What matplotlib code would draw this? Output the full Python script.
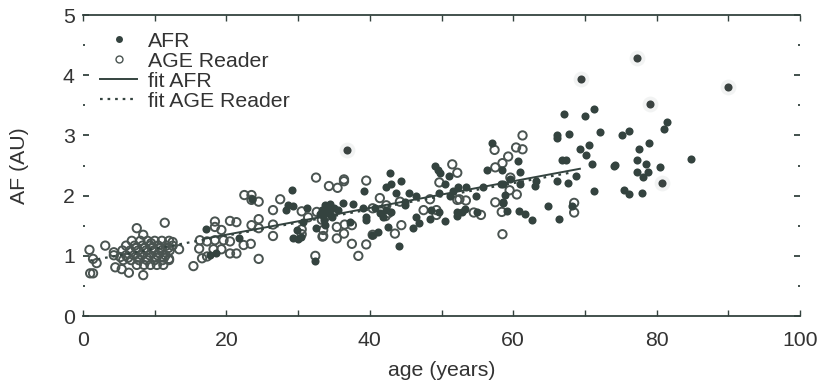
import matplotlib.pyplot as plt
from matplotlib.lines import Line2D
import numpy as np

plt.rcParams['font.family'] = ['Liberation Sans', 'DejaVu Sans']

# AFR measurements (filled dots)
afr_age = [17.2, 17.7, 18.6, 21.8, 23.5, 28.3, 28.6, 29.1, 29.3, 29.8, 29.3, 30.0,
           30.4, 30.7, 31.2, 32.4, 32.5, 33.0, 33.3, 33.5, 33.6, 33.8, 33.8, 34.0,
           34.2, 34.4, 34.5, 34.7, 35.0, 35.6, 36.2, 37.2, 37.7, 39.1, 39.2, 39.5,
           39.5, 40.3, 40.7, 41.2, 41.4, 41.9, 42.3, 42.3, 42.6, 42.8, 43.0, 43.0,
           43.7, 44.1, 44.4, 44.9, 44.9, 45.5, 46.0, 46.5, 46.5, 46.8, 48.4, 48.6,
           49.1, 49.5, 49.8, 49.6, 49.6, 50.5, 50.5, 51.0, 51.2, 51.6, 52.1, 52.2,
           52.3, 52.8, 53.3, 53.4, 54.8, 54.9, 55.8, 56.3, 57.0, 58.3, 58.5, 58.6,
           58.6, 58.6, 58.8, 59.2, 59.6, 60.7, 60.8, 60.9, 61.0, 61.6, 62.6, 63.0,
           63.2, 64.9, 66.1, 66.1, 66.1, 66.4, 66.8, 67.1, 67.4, 67.7, 67.8, 68.2,
           68.8, 69.3, 70.0, 70.1, 70.6, 71.0, 71.2, 71.3, 72.1, 74.0, 74.2, 75.2,
           75.4, 76.2, 76.2, 77.3, 77.3, 77.6, 77.9, 78.1, 78.5, 78.8, 78.9, 80.5,
           81.1, 81.5, 84.8]
afr_af = [1.45, 1.01, 1.04, 1.30, 1.95, 1.76, 1.84, 2.09, 1.82, 1.43, 1.30, 1.28,
          1.31, 1.57, 1.80, 0.92, 1.46, 1.70, 1.76, 1.68, 1.60, 1.84, 1.51, 1.72,
          1.76, 1.86, 1.70, 1.65, 1.80, 1.76, 1.87, 1.57, 1.86, 1.79, 2.08, 1.65,
          1.60, 1.35, 1.80, 1.40, 1.71, 1.64, 2.14, 1.77, 1.48, 2.38, 2.20, 1.73,
          2.05, 1.17, 2.24, 1.90, 1.84, 2.05, 1.46, 2.00, 1.65, 1.54, 1.61, 1.77,
          2.49, 2.43, 2.38, 2.05, 1.73, 2.20, 1.58, 2.33, 2.00, 2.07, 1.73, 1.67,
          2.14, 1.73, 1.78, 2.14, 2.00, 1.73, 2.14, 2.43, 2.88, 2.19, 2.43, 2.19,
          1.90, 1.87, 2.01, 1.74, 2.28, 2.58, 1.74, 2.39, 2.19, 1.70, 1.59, 2.16,
          2.24, 1.82, 3.00, 2.95, 2.24, 1.62, 2.60, 3.36, 2.60, 2.21, 3.02, 1.82,
          2.32, 2.77, 3.33, 2.67, 2.84, 2.52, 2.08, 3.44, 3.05, 2.49, 2.51, 3.01,
          2.09, 3.07, 2.03, 2.60, 2.40, 2.77, 2.05, 2.31, 2.52, 2.40, 2.87, 2.48,
          3.11, 3.22, 2.61]

# AFR outliers, drawn with a soft halo
afr_out_age = [36.8, 69.5, 77.2, 79.1, 80.7, 90.0]
afr_out_af = [2.76, 3.93, 4.29, 3.52, 2.21, 3.80]

# AGE Reader measurements (open circles)
rdr_age = [0.9, 1.0, 1.4, 1.4, 1.9, 3.1, 4.3, 4.3, 4.5, 5.2, 5.4, 6.4, 7.5, 8.4, 8.4,
           11.4, 12.0, 12.5, 13.4, 15.4,
           6.8, 8.0, 9.0, 10.0, 11.0, 12.0,
           6.0, 7.2, 8.3, 9.4, 10.5, 11.6, 12.5,
           5.5, 6.6, 7.7, 8.8, 9.9, 11.0, 12.1,
           6.0, 7.1, 8.2, 9.3, 10.4, 11.5,
           5.6, 6.7, 7.8, 8.9, 10.0, 11.1, 12.0,
           7.5, 8.5, 9.4, 10.3, 11.2,
           7.4, 8.6, 9.7, 10.8, 11.9, 6.3, 7.6, 8.9, 10.2, 11.3, 9.5, 10.6,
           16.2, 16.3, 16.6, 17.3, 17.3, 18.2, 18.4, 18.4, 18.4, 19.3, 19.3, 19.6,
           20.5, 20.5, 20.5, 21.4, 21.4, 22.4, 22.5, 23.4, 23.5, 23.5, 23.5, 24.5,
           24.5, 24.5, 24.5, 26.5, 26.5, 26.5, 27.5, 30.5, 30.5, 30.5, 31.4, 32.4,
           32.5, 32.6, 33.3, 33.4, 33.5, 33.5, 33.8, 34.3, 35.4, 35.4, 35.5, 36.4,
           36.4, 36.4, 36.5, 37.5, 37.5, 38.4, 39.5, 39.5, 40.4, 40.4, 41.4, 41.7,
           42.2, 42.3, 42.6, 43.5, 44.2, 44.4, 47.5, 48.4, 49.3, 49.3, 49.7, 51.5,
           52.2, 52.2, 52.5, 53.4, 54.5, 55.5, 57.4, 57.5, 57.5, 58.4, 58.5, 58.5,
           59.3, 59.5, 59.6, 60.4, 60.5, 61.3, 61.3, 68.5, 68.5]
rdr_af = [1.10, 0.71, 0.71, 0.95, 0.88, 1.17, 1.06, 1.01, 0.81, 0.98, 0.78, 0.72, 1.46,
          0.68, 1.35, 1.55, 0.95, 1.23, 1.11, 0.83,
          1.25, 1.25, 1.25, 1.25, 1.25, 1.25,
          1.17, 1.17, 1.17, 1.17, 1.17, 1.17, 1.17,
          1.09, 1.09, 1.09, 1.09, 1.09, 1.09, 1.09,
          1.01, 1.01, 1.01, 1.01, 1.01, 1.01,
          0.93, 0.93, 0.93, 0.93, 0.93, 0.93, 0.93,
          0.85, 0.85, 0.85, 0.85, 0.85,
          1.13, 1.13, 1.13, 1.13, 1.13, 0.97, 0.97, 0.97, 0.97, 0.97, 1.21, 1.05,
          1.12, 1.26, 0.96, 0.99, 1.24, 1.11, 1.57, 1.48, 1.26, 1.43, 1.11, 1.26,
          1.58, 1.24, 1.04, 1.56, 1.04, 1.18, 2.01, 1.20, 2.01, 1.93, 1.51, 1.90,
          1.61, 1.46, 0.95, 1.76, 1.52, 1.33, 1.94, 1.74, 1.44, 1.36, 1.64, 1.00,
          2.30, 1.73, 1.60, 1.32, 1.43, 1.33, 1.65, 2.16, 1.48, 1.29, 2.13, 2.27,
          2.24, 1.37, 1.52, 1.51, 1.20, 1.00, 2.25, 1.19, 1.79, 1.35, 1.96, 1.76,
          1.66, 1.84, 1.71, 1.37, 1.90, 1.51, 1.76, 1.94, 1.76, 1.68, 2.22, 2.52,
          2.38, 1.93, 1.94, 1.92, 1.72, 1.68, 2.76, 2.47, 1.89, 1.73, 2.54, 1.36,
          2.65, 2.09, 2.30, 2.80, 2.02, 3.00, 2.77, 1.88, 1.72]

# linear fits: (intercept, slope) and the age range each line spans
fit_afr = (0.908, 0.0222)
fit_afr_range = (16.8, 69.3)
fit_rdr = (0.900, 0.0218)
fit_rdr_range = (1.0, 67.8)

ink = '#34433f'
ring = '#4a5451'
txt = '#333333'

fig = plt.figure(figsize=(8.17, 3.85), dpi=100)
ax = fig.add_axes([0.1016, 0.179, 0.8776, 0.782])

ax.scatter(rdr_age, rdr_af, s=36, facecolors='none', edgecolors=ring,
           linewidths=1.4, zorder=2)
ax.scatter(afr_age, afr_af, s=34, color=ink, linewidths=0, zorder=3)
ax.scatter(afr_out_age, afr_out_af, s=130, color='#d5dad8', alpha=0.3,
           linewidths=0, zorder=3)
ax.scatter(afr_out_age, afr_out_af, s=34, color='#3a4240', linewidths=0, zorder=4)

xs = np.array(fit_afr_range)
ax.plot(xs, fit_afr[0] + fit_afr[1] * xs, color=ink, lw=1.4, zorder=5)
xs = np.array(fit_rdr_range)
ax.plot(xs, fit_rdr[0] + fit_rdr[1] * xs, color=ink, lw=1.6,
        ls=(0, (1.2, 2.2)), zorder=5)

ax.set_xlim(0, 100)
ax.set_ylim(0, 5)
ax.set_xticks(np.arange(0, 101, 20))
ax.set_xticks(np.arange(10, 100, 20), minor=True)
ax.set_yticks(np.arange(0, 6, 1))
ax.set_yticks(np.arange(0.5, 5, 1), minor=True)

for side in ['left', 'right']:
    ax.spines[side].set_visible(False)
for side in ['top', 'bottom']:
    ax.spines[side].set_color(ink)
    ax.spines[side].set_linewidth(1.3)

ax.tick_params(axis='both', which='both', direction='in', top=True, right=True,
               color=ink, labelcolor=txt, labelsize=15.3)
ax.tick_params(axis='x', which='both', length=4, width=1, pad=11)
ax.tick_params(axis='y', which='major', length=4, width=1.3, pad=6)
ax.tick_params(axis='y', which='minor', length=1.5, width=1.3)

ax.set_xlabel('age (years)', fontsize=15.3, color=txt, labelpad=8)
ax.set_ylabel('AF (AU)', fontsize=15.3, color=txt, labelpad=24)

handles = [
    Line2D([], [], ls='', marker='o', ms=5, color=ink, mew=0),
    Line2D([], [], ls='', marker='o', ms=5, mfc='none', mec=ring, mew=1),
    Line2D([], [], color=ink, lw=1.4),
    Line2D([], [], color=ink, lw=1.6, ls=(0, (1.2, 2.2))),
]
labels = ['AFR', 'AGE Reader', 'fit AFR', 'fit AGE Reader']
leg = ax.legend(handles, labels, loc='upper left', bbox_to_anchor=(0.0237, 0.945),
                frameon=False, fontsize=15.3, handlelength=1.75, handletextpad=0.5,
                labelspacing=0.05, borderpad=0, borderaxespad=0)
for t in leg.get_texts():
    t.set_color(txt)

fig.savefig('out.png', dpi=100)
